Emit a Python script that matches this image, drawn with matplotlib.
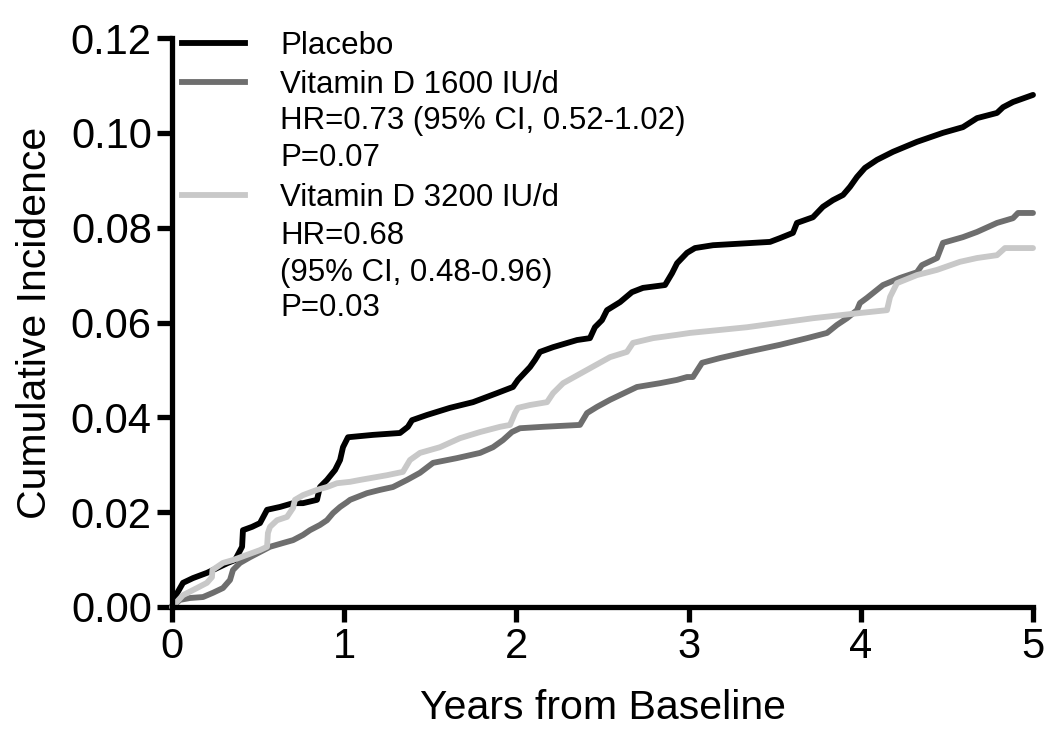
import matplotlib
matplotlib.use('Agg')
import matplotlib.pyplot as plt

plt.rcParams['font.family'] = ['Liberation Sans', 'DejaVu Sans']

# Cumulative incidence curves (years, incidence)
placebo_x = [0, 0.017, 0.064, 0.122, 0.203, 0.238, 0.325, 0.366, 0.407, 0.412,
             0.465, 0.511, 0.552, 0.627, 0.703, 0.761, 0.842, 0.859, 0.900, 0.947,
             0.976, 0.993, 1.022, 1.167, 1.324, 1.370, 1.394, 1.481, 1.614, 1.748,
             1.887, 1.980, 2.009, 2.079, 2.108, 2.137, 2.213, 2.352, 2.427, 2.456,
             2.497, 2.526, 2.602, 2.671, 2.735, 2.863, 2.904, 2.933, 2.991, 3.037,
             3.142, 3.473, 3.531, 3.606, 3.629, 3.722, 3.780, 3.838, 3.897, 3.937,
             3.978, 4.024, 4.094, 4.187, 4.326, 4.477, 4.593, 4.675, 4.791, 4.826,
             4.884, 5.0]
placebo_y = [0, 0.0021, 0.0051, 0.0061, 0.0072, 0.0078, 0.0093, 0.0099, 0.0127, 0.0162,
             0.0169, 0.0177, 0.0205, 0.0211, 0.0219, 0.0219, 0.0226, 0.0253, 0.0268, 0.0289,
             0.0310, 0.0337, 0.0358, 0.0363, 0.0367, 0.0380, 0.0394, 0.0405, 0.0420, 0.0432,
             0.0451, 0.0464, 0.0479, 0.0506, 0.0521, 0.0538, 0.0548, 0.0563, 0.0567, 0.0590,
             0.0605, 0.0626, 0.0643, 0.0664, 0.0673, 0.0679, 0.0704, 0.0725, 0.0747, 0.0757,
             0.0763, 0.0770, 0.0778, 0.0789, 0.0810, 0.0822, 0.0844, 0.0858, 0.0869, 0.0886,
             0.0907, 0.0926, 0.0943, 0.0960, 0.0981, 0.1000, 0.1012, 0.1031, 0.1042, 0.1054,
             0.1065, 0.1080]

d1600_x = [0, 0.046, 0.105, 0.180, 0.238, 0.296, 0.337, 0.354, 0.395, 0.453,
           0.511, 0.569, 0.645, 0.703, 0.761, 0.801, 0.859, 0.900, 0.935, 0.976,
           1.016, 1.034, 1.132, 1.208, 1.283, 1.365, 1.440, 1.516, 1.655, 1.789,
           1.864, 1.922, 1.974, 2.021, 2.154, 2.369, 2.410, 2.468, 2.544, 2.700,
           2.834, 2.933, 2.991, 3.025, 3.078, 3.182, 3.339, 3.531, 3.688, 3.804,
           3.862, 3.920, 3.978, 3.995, 4.036, 4.129, 4.228, 4.326, 4.355, 4.443,
           4.477, 4.593, 4.675, 4.791, 4.884, 4.913, 5.0]
d1600_y = [0, 0.0015, 0.0019, 0.0021, 0.0030, 0.0040, 0.0057, 0.0078, 0.0093, 0.0105,
           0.0116, 0.0127, 0.0135, 0.0141, 0.0152, 0.0162, 0.0173, 0.0183, 0.0198, 0.0211,
           0.0221, 0.0226, 0.0240, 0.0247, 0.0253, 0.0268, 0.0283, 0.0304, 0.0314, 0.0325,
           0.0337, 0.0352, 0.0369, 0.0377, 0.0380, 0.0384, 0.0409, 0.0422, 0.0437, 0.0464,
           0.0472, 0.0479, 0.0485, 0.0485, 0.0515, 0.0525, 0.0538, 0.0553, 0.0567, 0.0578,
           0.0595, 0.0609, 0.0626, 0.0641, 0.0652, 0.0679, 0.0694, 0.0706, 0.0721, 0.0736,
           0.0768, 0.0780, 0.0791, 0.0810, 0.0820, 0.0831, 0.0831]

d3200_x = [0, 0.064, 0.145, 0.203, 0.232, 0.235, 0.296, 0.354, 0.436, 0.511,
           0.552, 0.557, 0.569, 0.610, 0.668, 0.703, 0.714, 0.761, 0.842, 0.900,
           0.958, 1.034, 1.092, 1.249, 1.341, 1.382, 1.440, 1.556, 1.672, 1.789,
           1.905, 1.963, 1.992, 2.009, 2.079, 2.178, 2.213, 2.271, 2.410, 2.544,
           2.642, 2.677, 2.793, 2.933, 3.008, 3.339, 3.722, 3.995, 4.152, 4.170,
           4.210, 4.326, 4.443, 4.576, 4.675, 4.791, 4.837, 5.0]
d3200_y = [0, 0.0025, 0.0040, 0.0051, 0.0063, 0.0078, 0.0093, 0.0099, 0.0110, 0.0120,
           0.0127, 0.0156, 0.0169, 0.0183, 0.0190, 0.0209, 0.0226, 0.0236, 0.0247, 0.0253,
           0.0261, 0.0264, 0.0268, 0.0278, 0.0285, 0.0310, 0.0325, 0.0337, 0.0356, 0.0369,
           0.0380, 0.0384, 0.0409, 0.0420, 0.0426, 0.0432, 0.0451, 0.0472, 0.0500, 0.0527,
           0.0538, 0.0557, 0.0567, 0.0574, 0.0578, 0.0590, 0.0609, 0.0620, 0.0626, 0.0654,
           0.0683, 0.0700, 0.0711, 0.0728, 0.0736, 0.0742, 0.0757, 0.0757]

x_ticks = [0, 1, 2, 3, 4, 5]
y_ticks = [0.00, 0.02, 0.04, 0.06, 0.08, 0.10, 0.12]

legend_lines = [
    ('Placebo', '#000000'),
    ('Vitamin D 1600 IU/d\nHR=0.73 (95% CI, 0.52-1.02)\nP=0.07', '#6e6e6e'),
    ('Vitamin D 3200 IU/d\nHR=0.68\n(95% CI, 0.48-0.96)\nP=0.03', '#c8c8c8'),
]

fig = plt.figure(figsize=(10.47, 7.32), dpi=100)
ax = fig.add_axes([172 / 1047, 125 / 732, 861 / 1047, 569 / 732])

lw = 4.2
ax.plot(placebo_x, placebo_y, color='#000000', lw=lw, clip_on=False, solid_capstyle='round')
ax.plot(d1600_x, d1600_y, color='#6e6e6e', lw=lw, clip_on=False, solid_capstyle='round')
ax.plot(d3200_x, d3200_y, color='#c8c8c8', lw=lw, clip_on=False, solid_capstyle='round')

ax.set_xlim(0, 5)
ax.set_ylim(0, 0.12)
ax.set_xticks(x_ticks)
ax.set_yticks(y_ticks)
ax.set_yticklabels(['%.2f' % v for v in y_ticks])

for side in ['top', 'right']:
    ax.spines[side].set_visible(False)
for side in ['left', 'bottom']:
    ax.spines[side].set_linewidth(3.8)
    ax.spines[side].set_capstyle('projecting')
ax.tick_params(axis='both', direction='out', length=10.5, width=3.8,
               labelsize=30, pad=4)

ax.set_xlabel('Years from Baseline', fontsize=29.5, labelpad=16)
ax.set_ylabel('Cumulative Incidence', fontsize=29.5, labelpad=12)

# legend drawn by hand: key line next to first row of each entry
text_rows = []
for label, color in legend_lines:
    rows = label.split('\n')
    for i, r in enumerate(rows):
        text_rows.append((r, color if i == 0 else None))

row_y = [0.9719, 0.9033, 0.8401, 0.7750, 0.7047, 0.6380, 0.5729, 0.5114]
for (r, color), yy in zip(text_rows, row_y):
    ax.text(0.1254, yy, r, transform=ax.transAxes, fontsize=22.5,
            va='baseline', ha='left', clip_on=False)
    if color is not None:
        ax.plot([0.0116, 0.0848], [yy + 0.019, yy + 0.019], color=color, lw=4.2,
                transform=ax.transAxes, clip_on=False)

fig.savefig('out.png', dpi=100)
